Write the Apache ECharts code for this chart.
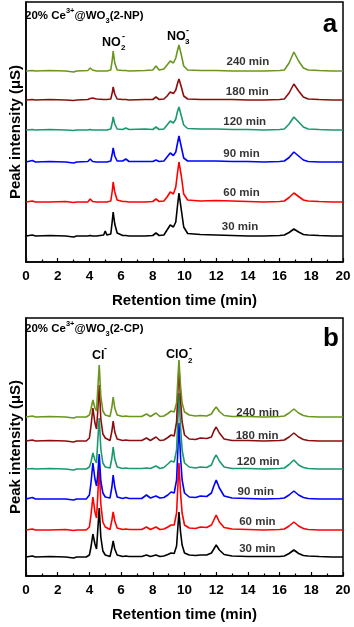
<!DOCTYPE html>
<html>
<head>
<meta charset="utf-8">
<script src="https://cdn.jsdelivr.net/npm/echarts@6/dist/echarts.min.js"></script>
<style>
html,body{margin:0;padding:0;background:#fff;}
#c{width:354px;height:627px;}
</style>
</head>
<body>
<div id="c"></div>
<script>
// ---------- Panel a (2-NP): retention times (min) ----------
var timesA = [0,0.4,0.5,0.6,1.5,2.5,3.0,3.1,3.2,3.9,4.05,4.2,4.3,4.45,4.9,5.0,5.1,5.35,5.45,5.5,5.6,5.75,6.1,6.3,6.5,7.5,8.0,8.2,8.4,8.7,8.9,9.1,9.3,9.45,9.55,9.65,9.8,9.95,10.2,11,12,13,14,15,16,16.3,16.6,16.9,17.2,17.5,17.8,18.5,19.3,20];
var a30  = [26,27,26,26,26.5,26,25,24.5,26,26,26.5,26,26,26,27,31,27,28,42,50,38,29,26.5,26.5,26,26,26.5,29,26.5,27,32,37,35,40,55,69,52,35,28.5,27.5,27,26.5,26,26,26.5,27,29.5,33,30,27.5,27,26.5,26,26];
var a60  = [60,61,60.5,60,60,60.5,59.5,60,60,60,63,60.5,60,60,60,60,60,61,72,80,70,62,60.5,60.5,60,60,60.5,63,60.5,61,65,70,68,75,88,100,86,68,62,61,61.5,61,60.5,60,60.5,61,64.5,69,65.5,62,61,60.5,60,60];
var a90  = [100,101.5,100.5,100,100.5,100,99,98.5,100,100.5,103,100.5,100.5,100,100,100,100,101,109,114,106,101,101,103,100.5,100.5,100.5,102,100.5,101,105,109,106.5,110,118,126,115,104,101,101,101,100.5,100.5,100,100.5,101,104.5,110,106,102,100.5,100,100,100];
var a120 = [132,132.5,132,132,132.5,132,131.5,131,132,132,132.5,132,132,132,132,132,132,133,140,145,138,133,132.5,134,132.5,133,132.5,135,132.5,133,137,141,139,143,150,155,146,137,133.5,133,133,132.5,132.5,132,132.5,133,138,145,140,135,133,132.5,132,132];
var a180 = [162,162.5,162,162,162.5,162,161.5,162,162,162.5,163.5,164,165,163,162.5,162.5,162.5,163,170,175,168,163,162.5,162.5,162,162.5,162.5,165,162.5,163,166,170,168.5,172,178,183,175,166,163,162.5,162.5,162.5,162,162,162.5,163,169,178,171,165,163,162.5,162,162];
var a240 = [191,191.5,191,191,191.5,191,190,190,191,191.5,194,192,191.5,191,191,191,191,192,203,211,199,192,191.5,191.5,191,191.5,192,196,192,193,197,201,199,204,211,217,207,196,192,191.5,191.5,191,191,191,191.5,192,199,210,201,194,192,191.5,191,191];

// ---------- Panel b (2-CP) ----------
var timesB = [0,0.4,0.5,0.6,1.5,2.5,3.0,3.1,3.2,3.8,4.0,4.1,4.22,4.35,4.45,4.52,4.62,4.72,4.85,5.0,5.3,5.42,5.5,5.6,5.75,6.1,6.3,6.5,7.3,7.6,7.85,8.2,8.45,8.7,8.95,9.15,9.35,9.5,9.57,9.65,9.75,9.85,10.0,10.3,10.7,11.0,11.4,11.7,11.85,12.0,12.2,12.5,13,14,15,16,16.3,16.6,16.9,17.2,17.5,17.8,18.5,19.3,20];
var b30  = [19,20,19,19,19.5,19,18,17.5,19,19,21,29,42,32,27,44,68,39,25,21,19.5,28,35,27,21,19.5,20,19.5,19.5,21,19.5,21,19.5,20,21.5,23,22.5,30,46,64,44,31,23,21,20.5,21,21,23,27,31,26,21.5,20,19.5,19.5,19.5,20,22.5,26,22.5,20.5,20,19.5,19,19];
var b60  = [46,47,46.5,46,46,46.5,45.5,45,46,46,49,61,79,64,58,78,110,72,54,49,46.5,56,64,55,48,46.5,47,46.5,46.5,49,46.5,49,46.5,47,49,51,51,63,86,113,83,63,51,48,47.5,49,48.5,51,56,61,54,48.5,47,46.5,46,46.5,47,50,54,50,47.5,46.5,46,46,46];
var b90  = [77,78.5,77.5,77,77,77,76,75.5,77,77,81,93,113,97,90,100,122,95,83,79,78,89,101,89,79,77.5,78.5,77.5,77.5,81,78,80,78,78.5,81,84,83,96,122,153,119,96,83,79,78.5,80,79.5,83,90,96,88,80,78,77.5,77,77.5,78,81,85,81,78.5,77.5,77,77,77];
var b120 = [107,107.5,107,107,107.5,107,106,105.5,107,107,109,114,123,116,113,133,158,127,113,109,108,118,129,117,109,107.5,108,107.5,107.5,108,107.5,110,107.5,108.5,112,115,114,126,152,183,149,126,113,109,108,109,108.5,111,117,121,115,109,107.5,107.5,107,107.5,108,111.5,116,111,108.5,107.5,107,107,107];
var b180 = [135,136,135,135,135.5,135,134,133.5,135,135,138,150,168,153,147,163,191,157,142,138,135.5,145,155,144,137,135.5,136,135.5,135.5,138,135.5,139,135.5,136,138.5,141,140,154,180,210,176,154,141,137,136.5,138,137.5,139,145,149,143,137,135.5,135.5,135,135.5,136,139,143,139,136.5,135.5,135,135,135];
var b240 = [159,160,159,159,159.5,159,158,157.5,159,159,161,167,176,168,165,185,211,180,165,161,159.5,169,179,168,161,159.5,160,159.5,159.5,162,159.5,163,159.5,160,162.5,165,164,173,193,216,190,173,164,161,160,160.5,160,162,166,169,164.5,160.5,159.5,159.5,159,159.5,160,163,167,163,160.5,159.5,159,159,159];

// ---------- trace labels ----------
var traceNames  = ['30 min','60 min','90 min','120 min','180 min','240 min'];
var labelTimeA  = [13.5,13.6,13.6,13.8,13.96,14.0];
var labelValA   = [35,69,108,140,170,200];
var labelTimeB  = [14.6,14.6,14.5,14.65,14.58,14.62];
var labelValB   = [27,54,84,114,140,163];
var xTicks = [0,2,4,6,8,10,12,14,16,18,20];

var colors = ['#000000','#ff0000','#0000ff','#1a9870','#8c0d0d','#6a961f'];
var seriesA = [a30,a60,a90,a120,a180,a240];
var seriesB = [b30,b60,b90,b120,b180,b240];

var FONT = '"Liberation Sans", Arial, Helvetica, sans-serif';

function pairs(t, v){ var out=[]; for(var i=0;i<t.length;i++){ out.push([t[i], v[i]]); } return out; }

var chart = echarts.init(document.getElementById('c'), null, {renderer:'canvas'});

function xAxisDef(gi){
  return {
    type:'value', gridIndex:gi, min:xTicks[0], max:xTicks[xTicks.length-1], interval:2,
    axisLine:{show:true, onZero:false, lineStyle:{color:'#000', width:1.5}},
    axisTick:{show:true, inside:true, length:4, lineStyle:{color:'#000', width:1.2}},
    minorTick:{show:true, splitNumber:2, length:2.5, lineStyle:{color:'#000', width:1.2}},
    splitLine:{show:false},
    axisLabel:{show:true, margin:7, color:'#000', fontSize:13.5, fontWeight:'bold', fontFamily:FONT},
    name:'Retention time (min)', nameLocation:'middle', nameGap:31,
    nameTextStyle:{color:'#000', fontSize:15, fontWeight:'bold', fontFamily:FONT}
  };
}
function yAxisDef(gi, maxv){
  return {
    type:'value', gridIndex:gi, min:0, max:maxv,
    axisLine:{show:true, lineStyle:{color:'#000', width:1.5}},
    axisTick:{show:false}, axisLabel:{show:false}, splitLine:{show:false},
    name:'Peak intensity (\u03bcS)', nameLocation:'middle', nameGap:3, nameRotate:90,
    nameTextStyle:{color:'#000', fontSize:15, fontWeight:'bold', fontFamily:FONT}
  };
}

var series = [];
for (var k=0;k<6;k++){
  series.push({type:'line', xAxisIndex:0, yAxisIndex:0, data:pairs(timesA, seriesA[k]), showSymbol:false, symbol:'none',
    lineStyle:{color:colors[k], width:1.6}, itemStyle:{color:colors[k]}, z:2+k, silent:true});
}
for (var k2=0;k2<6;k2++){
  series.push({type:'line', xAxisIndex:1, yAxisIndex:1, data:pairs(timesB, seriesB[k2]), showSymbol:false, symbol:'none',
    lineStyle:{color:colors[k2], width:1.6}, itemStyle:{color:colors[k2]}, z:2+k2, silent:true});
}
function labelData(tArr, vArr){ var d=[]; for(var i=0;i<tArr.length;i++){ d.push([tArr[i], vArr[i], traceNames[i]]); } return d; }
var lblStyle = {show:true, position:'inside', formatter:function(p){return p.value[2];}, color:'#000', fontSize:11.5, fontWeight:'bold', fontFamily:FONT};
series.push({type:'scatter', xAxisIndex:0, yAxisIndex:0, data:labelData(labelTimeA,labelValA), symbolSize:1, itemStyle:{color:'rgba(0,0,0,0)'}, label:lblStyle, z:20, silent:true});
series.push({type:'scatter', xAxisIndex:1, yAxisIndex:1, data:labelData(labelTimeB,labelValB), symbolSize:1, itemStyle:{color:'rgba(0,0,0,0)'}, label:lblStyle, z:20, silent:true});

function txt(x,y,s,size,weight,align,va){
  return {type:'text', x:x, y:y, z:100, style:{text:s, fill:'#000', font:(weight||'normal')+' '+size+'px '+FONT, textAlign:align||'left', textVerticalAlign:va||'middle'}};
}

var graphics = [
  // panel titles
  {type:'text', x:25, y:16, z:100, style:{
     text:'{m|20% Ce}{sup|3+}{m|@WO}{sub|3}{m|(2-NP)}', fill:'#000', textVerticalAlign:'middle',
     rich:{ m:{font:'bold 11.5px '+FONT, lineHeight:18, verticalAlign:'middle'},
            sup:{font:'bold 7.5px '+FONT, lineHeight:18, verticalAlign:'top'},
            sub:{font:'bold 7.5px '+FONT, lineHeight:18, verticalAlign:'bottom'} } }},
  {type:'text', x:25, y:329, z:100, style:{
     text:'{m|20% Ce}{sup|3+}{m|@WO}{sub|3}{m|(2-CP)}', fill:'#000', textVerticalAlign:'middle',
     rich:{ m:{font:'bold 11.5px '+FONT, lineHeight:18, verticalAlign:'middle'},
            sup:{font:'bold 7.5px '+FONT, lineHeight:18, verticalAlign:'top'},
            sub:{font:'bold 7.5px '+FONT, lineHeight:18, verticalAlign:'bottom'} } }},
  txt(330,25,'a',26,'bold','center','middle'),
  txt(331,339,'b',26,'bold','center','middle'),
  // ion labels panel a
  txt(102,43,'NO',12.5,'bold','left','middle'),
  txt(121,48,'2',8,'bold','left','middle'),
  txt(122,37,'-',9,'bold','left','middle'),
  txt(167,37,'NO',12.5,'bold','left','middle'),
  txt(185,42,'3',8,'bold','left','middle'),
  txt(186,31,'-',9,'bold','left','middle'),
  // ion labels panel b
  txt(92,356,'Cl',12.5,'bold','left','middle'),
  txt(104,349,'-',9,'bold','left','middle'),
  txt(166,355,'ClO',12.5,'bold','left','middle'),
  txt(188,361,'2',8,'bold','left','middle'),
  txt(189,349,'-',9,'bold','left','middle')
];

chart.setOption({
  animation:false,
  backgroundColor:'#fff',
  grid:[
    {left:22, top:2, width:321, height:260, show:true, borderColor:'#000', borderWidth:1.5, backgroundColor:'transparent'},
    {left:22, top:318, width:321, height:258, show:true, borderColor:'#000', borderWidth:1.5, backgroundColor:'transparent'}
  ],
  xAxis:[xAxisDef(0), xAxisDef(1)],
  yAxis:[yAxisDef(0,260), yAxisDef(1,258)],
  series:series,
  graphic:graphics
});
</script>
</body>
</html>
